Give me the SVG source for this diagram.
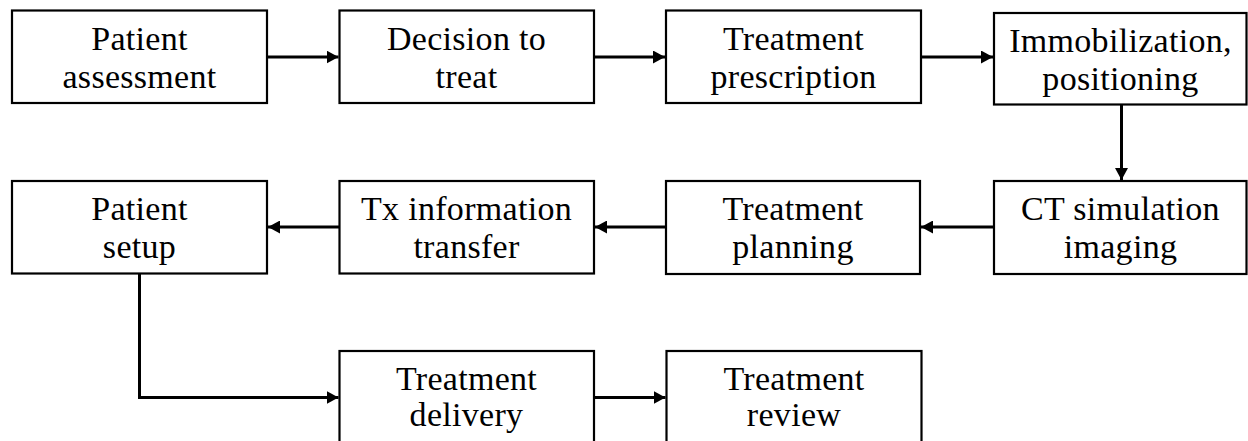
<svg xmlns="http://www.w3.org/2000/svg" width="1248" height="441" viewBox="0 0 1248 441">
  <style>
    .box { fill: #ffffff; stroke: #000000; stroke-width: 2.2; }
    .lbl { font-family: "Liberation Serif", "Times New Roman", serif; font-size: 34px; letter-spacing: 0.3px; fill: #000000; text-anchor: middle; }
    .wire { fill: none; stroke: #000000; stroke-width: 3; }
  </style>
  <defs>
    <marker id="head" viewBox="0 0 12 13" refX="12" refY="6.5" markerWidth="12" markerHeight="13" markerUnits="userSpaceOnUse" orient="auto">
      <path d="M0,0 L12,6.5 L0,13 Z" fill="#000000"/>
    </marker>
  </defs>

  <rect width="1248" height="441" fill="#ffffff"/>

  <!-- connectors -->
  <g id="connectors">
    <line class="wire" x1="267" y1="57" x2="338.5" y2="57" marker-end="url(#head)"/>
    <line class="wire" x1="594" y1="57" x2="665" y2="57" marker-end="url(#head)"/>
    <line class="wire" x1="921" y1="57" x2="993" y2="57" marker-end="url(#head)"/>
    <line class="wire" x1="1121.5" y1="104.5" x2="1121.5" y2="180" marker-end="url(#head)"/>
    <line class="wire" x1="994" y1="227" x2="921" y2="227" marker-end="url(#head)"/>
    <line class="wire" x1="666" y1="227" x2="595" y2="227" marker-end="url(#head)"/>
    <line class="wire" x1="339.5" y1="227" x2="268" y2="227" marker-end="url(#head)"/>
    <polyline class="wire" points="139.5,274 139.5,397.5 338.5,397.5" marker-end="url(#head)"/>
    <line class="wire" x1="594" y1="397.5" x2="665.5" y2="397.5" marker-end="url(#head)"/>
  </g>

  <!-- row 1 -->
  <g id="patient-assessment">
    <rect class="box" x="12" y="10.5" width="255" height="92.5"/>
    <text class="lbl" x="139.5" y="49.5">Patient</text>
    <text class="lbl" x="139.5" y="87.5">assessment</text>
  </g>
  <g id="decision-to-treat">
    <rect class="box" x="339.5" y="10.5" width="254.5" height="92.5"/>
    <text class="lbl" x="466.5" y="49.5">Decision to</text>
    <text class="lbl" x="466.5" y="87.5">treat</text>
  </g>
  <g id="treatment-prescription">
    <rect class="box" x="666" y="10.5" width="255" height="92.5"/>
    <text class="lbl" x="793.5" y="49.5">Treatment</text>
    <text class="lbl" x="793.5" y="87.5">prescription</text>
  </g>
  <g id="immobilization-positioning">
    <rect class="box" x="994" y="13" width="252.5" height="91.5"/>
    <text class="lbl" x="1120.5" y="51.5">Immobilization,</text>
    <text class="lbl" x="1120.5" y="89.5">positioning</text>
  </g>

  <!-- row 2 -->
  <g id="ct-simulation-imaging">
    <rect class="box" x="994" y="181" width="252.5" height="93"/>
    <text class="lbl" x="1120.5" y="220">CT simulation</text>
    <text class="lbl" x="1120.5" y="258">imaging</text>
  </g>
  <g id="treatment-planning">
    <rect class="box" x="666" y="181" width="254" height="93"/>
    <text class="lbl" x="793" y="220">Treatment</text>
    <text class="lbl" x="793" y="258">planning</text>
  </g>
  <g id="tx-information-transfer">
    <rect class="box" x="339.5" y="181" width="254.5" height="92.5"/>
    <text class="lbl" x="466.5" y="220">Tx information</text>
    <text class="lbl" x="466.5" y="258">transfer</text>
  </g>
  <g id="patient-setup">
    <rect class="box" x="12" y="181" width="255" height="92.5"/>
    <text class="lbl" x="139.5" y="220">Patient</text>
    <text class="lbl" x="139.5" y="258">setup</text>
  </g>

  <!-- row 3 (runs past the lower edge) -->
  <g id="treatment-delivery">
    <rect class="box" x="339.5" y="351" width="254.5" height="120"/>
    <text class="lbl" x="466.5" y="389.5">Treatment</text>
    <text class="lbl" x="466.5" y="426">delivery</text>
  </g>
  <g id="treatment-review">
    <rect class="box" x="666.5" y="351" width="255" height="120"/>
    <text class="lbl" x="794" y="389.5">Treatment</text>
    <text class="lbl" x="794" y="426">review</text>
  </g>
</svg>
